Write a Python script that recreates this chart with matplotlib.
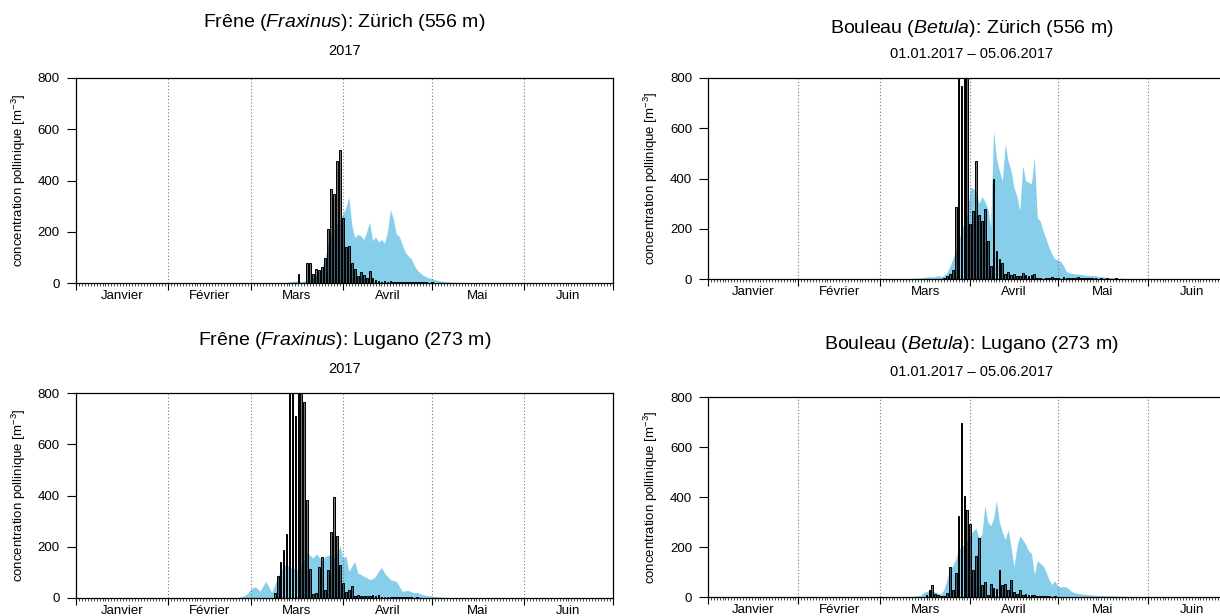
import numpy as np
import matplotlib
matplotlib.use("Agg")
import matplotlib.pyplot as plt
from matplotlib.transforms import blended_transform_factory

# Fonts (Helvetica-like look, italic genus names through mathtext)
plt.rcParams['font.family'] = ['Liberation Sans', 'DejaVu Sans']
plt.rcParams['mathtext.fontset'] = 'custom'
plt.rcParams['mathtext.rm'] = 'Liberation Sans'
plt.rcParams['mathtext.it'] = 'Liberation Sans:italic'

# Calendar: day of year, 1 January = 0
month_starts = [0, 31, 59, 90, 120, 151, 181]
month_names = ["Janvier", "Février", "Mars", "Avril", "Mai", "Juin"]

# Frêne (Fraxinus), Zürich: daily values 2017 (bars) and mean season (blue area)
frax_zh_bar_start = 75
frax_zh_bars = [36, 0, 0, 79, 77, 37, 56, 52, 64, 96, 212, 368, 346, 478, 520,
                254, 140, 144, 78, 55, 26, 44, 30, 20, 45, 20, 12, 8, 5, 6, 4,
                7, 3, 5, 4, 3, 5, 2, 4, 3, 2, 3, 2, 2, 1, 2, 1]
frax_zh_clim_start = 68
frax_zh_clim = [0, 0, 1, 2, 4, 6, 8, 6, 5, 8, 10, 15, 20, 30, 45, 65, 100, 150,
                190, 210, 230, 250, 270, 295, 335, 225, 177, 190, 185, 170, 200,
                237, 165, 180, 160, 170, 155, 200, 286, 250, 190, 182, 150, 120,
                105, 95, 70, 50, 40, 30, 25, 20, 17, 13, 10, 8, 6, 5, 4, 3, 3,
                2, 2, 1, 1, 0]

# Bouleau (Betula), Zürich
bet_zh_bar_start = 81
bet_zh_bars = [5, 10, 18, 36, 285, 1000, 767, 1000, 1000, 219, 269, 469, 256,
               232, 279, 153, 53, 398, 110, 80, 62, 20, 27, 15, 20, 12, 10, 25,
               15, 12, 15, 20, 5, 3, 0, 5, 2, 6, 3, 2, 0, 8, 3, 5, 2, 4, 6, 3,
               5, 2, 3, 4, 2, 1, 2, 1, 3, 1, 0, 2]
bet_zh_clim_start = 68
bet_zh_clim = [0, 1, 2, 3, 4, 5, 6, 8, 9, 8, 10, 13, 10, 15, 25, 50, 80, 110,
               150, 190, 230, 260, 365, 360, 350, 300, 328, 310, 280, 206, 590,
               480, 430, 390, 537, 470, 430, 365, 330, 272, 451, 391, 385, 378,
               484, 245, 230, 192, 160, 126, 100, 80, 76, 70, 53, 30, 25, 22,
               20, 20, 18, 16, 15, 14, 13, 13, 10, 8, 7, 6, 5, 5, 4, 3, 3, 2,
               2, 1, 1, 0]

# Frêne (Fraxinus), Lugano
frax_lu_bar_start = 67
frax_lu_bars = [20, 85, 139, 186, 251, 950, 1000, 709, 900, 1100, 764, 381,
                113, 17, 20, 120, 160, 33, 108, 258, 394, 243, 130, 59, 22, 30,
                48, 7, 13, 7, 9, 7, 9, 13, 7, 13, 4, 5, 4, 3, 5, 3, 2, 5, 2, 3,
                2, 1, 2]
frax_lu_clim_start = 50
frax_lu_clim = [0, 0, 0, 1, 2, 3, 6, 10, 20, 35, 43, 39, 26, 45, 65, 45, 22, 50,
                80, 105, 125, 130, 120, 117, 112, 110, 130, 150, 176, 165, 156,
                173, 160, 143, 163, 166, 169, 156, 175, 202, 156, 163, 104, 125,
                143, 98, 92, 85, 80, 72, 75, 85, 105, 120, 98, 85, 72, 68, 65,
                45, 26, 28, 30, 24, 20, 22, 17, 13, 10, 9, 7, 6, 5, 4, 3, 2, 2,
                1, 0]

# Bouleau (Betula), Lugano
bet_lu_bar_start = 75
bet_lu_bars = [7, 27, 47, 11, 8, 5, 4, 16, 120, 27, 96, 323, 697, 405, 350, 294,
               110, 166, 238, 47, 60, 7, 53, 37, 33, 110, 47, 53, 29, 67, 20,
               13, 29, 9, 12, 8, 7, 8, 5, 4, 6, 3, 4, 2, 3, 2, 1, 2, 1, 1]
bet_lu_clim_start = 68
bet_lu_clim = [0, 1, 2, 4, 5, 7, 18, 22, 27, 25, 20, 15, 13, 30, 70, 110, 125,
               150, 190, 200, 210, 225, 250, 265, 275, 235, 250, 365, 300, 285,
               315, 385, 300, 260, 230, 270, 200, 120, 200, 245, 230, 210, 185,
               175, 90, 145, 135, 125, 100, 70, 50, 65, 45, 40, 42, 40, 30, 20,
               17, 14, 13, 11, 10, 9, 8, 7, 6, 6, 5, 5, 5, 4, 4, 3, 3, 3, 2, 2,
               2, 1, 1, 1, 0]

panels = [
    ([75.8, 283, 537.2, 205], "Frêne ($\\mathit{Fraxinus}$): Zürich (556 m)", "2017",
     frax_zh_bar_start, frax_zh_bars, frax_zh_clim_start, frax_zh_clim, 1.273, 1.132),
    ([708, 279, 527.4, 201], "Bouleau ($\\mathit{Betula}$): Zürich (556 m)",
     "01.01.2017 – 05.06.2017",
     bet_zh_bar_start, bet_zh_bars, bet_zh_clim_start, bet_zh_clim, 1.244, 1.119),
    ([75.8, 598, 537.2, 205], "Frêne ($\\mathit{Fraxinus}$): Lugano (273 m)", "2017",
     frax_lu_bar_start, frax_lu_bars, frax_lu_clim_start, frax_lu_clim, 1.254, 1.117),
    ([708, 597, 527.4, 200], "Bouleau ($\\mathit{Betula}$): Lugano (273 m)",
     "01.01.2017 – 05.06.2017",
     bet_lu_bar_start, bet_lu_bars, bet_lu_clim_start, bet_lu_clim, 1.26, 1.125),
]

W, H = 1220, 616
fig = plt.figure(figsize=(W / 100, H / 100), dpi=100)

for (left, base, width, height), title, subtitle, b0, bars, c0, clim, ty, sy in panels:
    ax = fig.add_axes([left / W, 1 - base / H, width / W, height / H])

    # mean season as blue area, 2017 daily values as bars
    clim_days = np.arange(c0, c0 + len(clim))
    ax.fill_between(clim_days, clim, color='#87CEEB', lw=0, zorder=1)
    for m in month_starts[1:-1]:
        ax.axvline(m, color='#777777', ls=(0, (1, 2)), lw=0.8, zorder=2)
    bar_days = np.arange(b0, b0 + len(bars))
    ax.bar(bar_days, bars, width=0.6, color=(0, 0, 0, 0.55),
           edgecolor='black', linewidth=0.7, zorder=3)

    ax.set_xlim(0, 181)
    ax.set_ylim(0, 800)
    ax.set_yticks([0, 200, 400, 600, 800])
    ax.set_xticks(month_starts)
    ax.set_xticks(np.arange(0, 182), minor=True)
    ax.tick_params(axis='y', direction='out', length=6.5, width=0.8, pad=5,
                   labelsize=9.5)
    ax.tick_params(axis='x', which='major', direction='out', length=5,
                   width=0.8, labelbottom=False)
    ax.tick_params(axis='x', which='minor', direction='out', length=2.5,
                   width=0.5)
    for s in ax.spines.values():
        s.set_linewidth(0.9)

    trans = blended_transform_factory(ax.transData, ax.transAxes)
    for i, name in enumerate(month_names):
        mid = (month_starts[i] + month_starts[i + 1]) / 2
        ax.text(mid, -13 / height, name, transform=trans, ha='center',
                va='center', fontsize=9.5)

    ax.set_ylabel("concentration pollinique [m$^{-3}$]", fontsize=9.5)
    ax.yaxis.set_label_coords(-48 / width, 0.5)

    ax.text(0.5, ty, title, transform=ax.transAxes, ha='center', va='center',
            fontsize=14)
    ax.text(0.5, sy, subtitle, transform=ax.transAxes, ha='center',
            va='center', fontsize=10.5)

plt.savefig("out.png", dpi=100)
